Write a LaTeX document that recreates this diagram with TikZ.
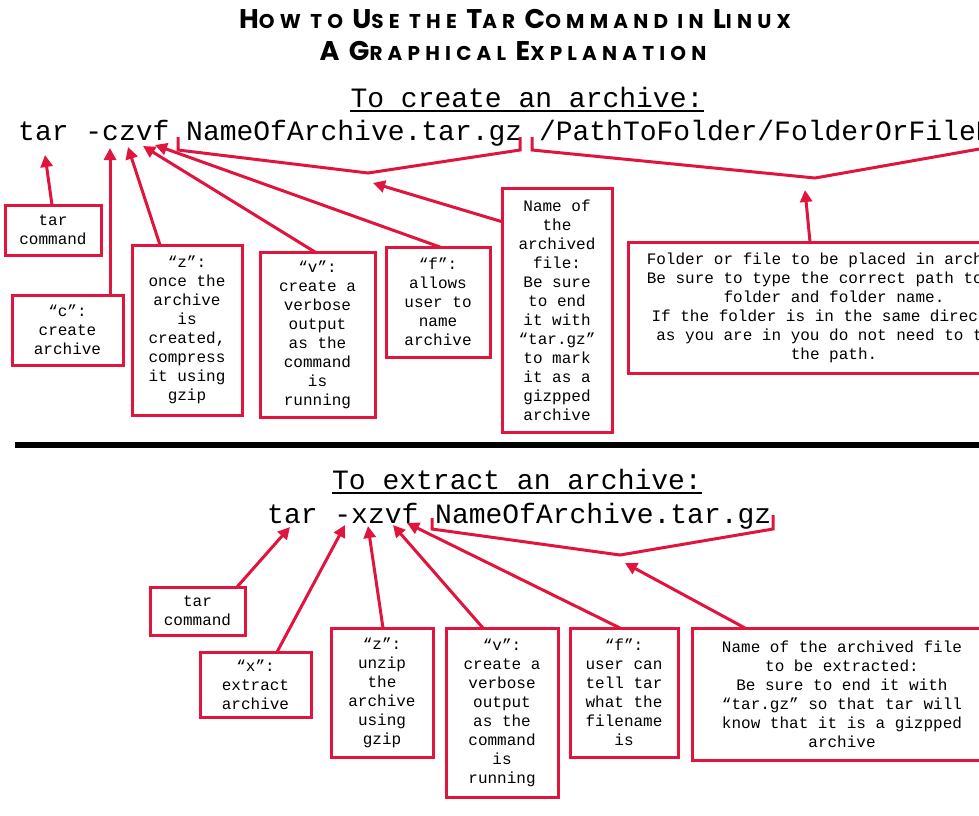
\documentclass[tikz,border=0pt]{standalone}
\usepackage{fontspec}
\setmainfont{Liberation Mono}
\newfontfamily\titlefont{Poppins}[BoldFont={* Bold},LetterSpace=26]
\usetikzlibrary{arrows.meta}
\definecolor{rd}{HTML}{E0143C}
\newcommand\tbig[1]{{\fontsize{27}{27}\selectfont #1}}
\tikzset{
 bx/.style={draw=rd,line width=3pt,align=center,font=\fontsize{16}{19}\selectfont,inner sep=0pt},
 ar/.style={rd,line width=3pt,-{Triangle[length=12pt,width=12pt]}},
 br/.style={rd,line width=3pt,line join=miter},
 cmd/.style={font=\fontsize{28}{28}\selectfont,inner sep=0pt,anchor=base west},
 hd/.style={font=\fontsize{28}{28}\selectfont,inner sep=0pt,anchor=base}
}
\begin{document}
\begin{tikzpicture}[x=1pt,y=-1pt]
\useasboundingbox (0,0) rectangle (979,815);
\node[font=\titlefont\bfseries\fontsize{20}{20}\selectfont,anchor=base] (t1) at (515,28) {\tbig{H}OW TO \tbig{U}SE THE \tbig{T}AR \tbig{C}OMMAND IN \tbig{L}INUX};
\node[font=\titlefont\bfseries\fontsize{20}{20}\selectfont,anchor=base] (t2) at (513,60) {\tbig{A} \tbig{G}RAPHICAL \tbig{E}XPLANATION};
\node[hd] (h1) at (527,107) {To create an archive:};
\draw[line width=2pt] (h1.base west)+(0,4) -- ([yshift=-4pt]h1.base east);
\node[cmd] (c1) at (18,140) {tar -czvf NameOfArchive.tar.gz /PathToFolder/FolderOrFileName};
% brackets
\coordinate (b1a) at (178,137); \coordinate (b1b) at (178,150); \coordinate (b1c) at (368,173); \coordinate (b1d) at (520,150); \coordinate (b1e) at (520,137);
\draw[br] (b1a)--(b1b)--(b1c)--(b1d)--(b1e);
\coordinate (b2a) at (532,137); \coordinate (b2b) at (532,150); \coordinate (b2c) at (815,178); \coordinate (b2d) at (985,148);
\draw[br] (b2a)--(b2b)--(b2c)--(b2d);
% boxes row 1
\node[bx,minimum width=96pt,minimum height=50pt] (tarb) at (53,230) {tar\\command};
\node[bx,minimum width=111pt,minimum height=70pt] (cb) at (67.5,330) {“c”:\\create\\archive};
\node[bx,minimum width=110pt,minimum height=170pt] (zb) at (187,330) {“z”:\\once the\\archive\\is\\created,\\compress\\it using\\gzip};
\node[bx,minimum width=115pt,minimum height=165pt] (vb) at (317.5,334.5) {“v”:\\create a\\verbose\\output\\as the\\command\\is\\running};
\node[bx,minimum width=104pt,minimum height=110pt] (fb) at (438,302) {“f”:\\allows\\user to\\name\\archive};
\node[bx,minimum width=110pt,minimum height=244pt] (nb) at (557,310) {Name of\\the\\archived\\file:\\Be sure\\to end\\it with\\“tar.gz”\\to mark\\it as a\\gizpped\\archive};
\node[bx,minimum width=412pt,minimum height=131pt] (fob) at (834,307.5) {Folder or file to be placed in archive:\\Be sure to type the correct path to the\\folder and folder name.\\If the folder is in the same directory\\as you are in you do not need to type\\the path.};
\coordinate (t0) at (45,155); \coordinate (tc) at (110,148); \coordinate (tz) at (128,147); \coordinate (tv) at (143,146); \coordinate (tf) at (155,145); \coordinate (tn) at (373,183); \coordinate (tfo) at (805,190);
\draw[ar] (52,205) -- (t0);
\draw[ar] (cb.north -| 110,0) -- (tc);
\draw[ar] (160,245) -- (tz);
\draw[ar] (315,252) -- (tv);
\draw[ar] (440,247) -- (tf);
\draw[ar] (503,222) -- (tn);
\draw[ar] (810,242) -- (tfo);
% separator
\draw[line width=6pt] (15,445) -- (979,445);
\node[hd] (h2) at (517,489) {To extract an archive:};
\draw[line width=2pt] (h2.base west)+(0,4) -- ([yshift=-4pt]h2.base east);
\node[cmd] (c2) at (267,523) {tar -xzvf NameOfArchive.tar.gz};
\coordinate (d1) at (432,518); \coordinate (d2) at (432,529); \coordinate (d3) at (620,555); \coordinate (d4) at (773,529); \coordinate (d5) at (773,515);
\draw[br] (d1)--(d2)--(d3)--(d4)--(d5);
\node[bx,minimum width=95pt,minimum height=48pt] (tar2) at (197.5,611) {tar\\command};
\node[bx,minimum width=111pt,minimum height=65pt] (xb) at (255.5,684.5) {“x”:\\extract\\archive};
\node[bx,minimum width=102pt,minimum height=129pt] (z2) at (382,692.5) {“z”:\\unzip\\the\\archive\\using\\gzip};
\node[bx,minimum width=112pt,minimum height=169pt] (v2) at (502,712.5) {“v”:\\create a\\verbose\\output\\as the\\command\\is\\running};
\node[bx,minimum width=108pt,minimum height=129pt] (f2) at (624,692.5) {“f”:\\user can\\tell tar\\what the\\filename\\is};
\node[bx,minimum width=300pt,minimum height=132pt] (n2) at (842,694) {Name of the archived file\\to be extracted:\\Be sure to end it with\\“tar.gz” so that tar will\\know that it is a gizpped\\archive};
\coordinate (u0) at (290,527); \coordinate (ux) at (345,525); \coordinate (uz) at (368,526); \coordinate (uv) at (393,525); \coordinate (uf) at (407,523); \coordinate (un) at (625,563);
\draw[ar] (237,587) -- (u0);
\draw[ar] (277,652) -- (ux);
\draw[ar] (383,628) -- (uz);
\draw[ar] (483,628) -- (uv);
\draw[ar] (620,628) -- (uf);
\draw[ar] (745,628) -- (un);
\end{tikzpicture}
\end{document}
